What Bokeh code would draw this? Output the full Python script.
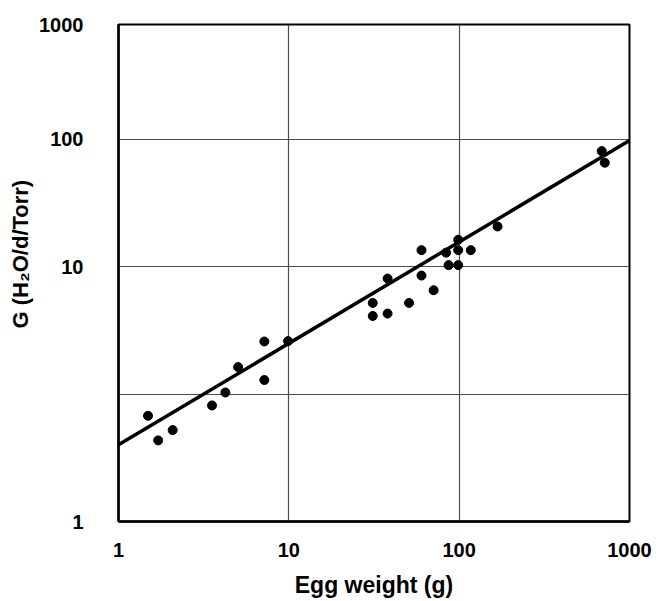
from bokeh.plotting import figure
from bokeh.models import Range1d, FixedTicker, ColumnDataSource, Title
from bokeh.embed import file_html
from bokeh.resources import INLINE

# Egg weight (g) and water-vapour conductance G (mg H2O / day / Torr)
egg_weight = [1.49, 1.71, 2.08, 3.54, 4.24, 5.04, 7.18, 7.18, 9.9,
              31.1, 31.1, 38.0, 38.0, 50.8, 60.1, 60.1, 70.8, 83.8,
              86.7, 98.7, 98.7, 98.7, 117.0, 168.0, 687.0, 716.0]
conductance = [0.676, 0.433, 0.522, 0.815, 1.03, 1.63, 2.59, 1.29, 2.61,
               5.20, 4.11, 8.08, 4.29, 5.20, 13.5, 8.53, 6.54, 12.9,
               10.3, 16.3, 13.5, 10.3, 13.5, 20.7, 80.9, 65.6]

# Allometric regression line end points
fit_weight = [1.0, 1000.0]
fit_conductance = [0.40, 98.0]

x_ticks = [1, 10, 100, 1000]
y_ticks = [0.1, 1, 10, 100, 798]
y_tick_labels = ["1", "", "10", "100", "1000"]

FONT = "Liberation Sans"

p = figure(width=659, height=601,
           x_axis_type="log", y_axis_type="log",
           x_range=Range1d(1, 1000), y_range=Range1d(0.1, 798),
           output_backend="svg", toolbar_location=None,
           min_border_left=118, min_border_right=30,
           min_border_top=24, min_border_bottom=80)

p.background_fill_color = "white"
p.border_fill_color = "white"
p.outline_line_color = "black"
p.outline_line_width = 2

# grid
p.xgrid.ticker = FixedTicker(ticks=x_ticks)
p.ygrid.ticker = FixedTicker(ticks=y_ticks)
for g in (p.xgrid, p.ygrid):
    g.grid_line_color = "#4d4d4d"
    g.grid_line_width = 1.2
    g.minor_grid_line_color = None

# axes
p.xaxis.ticker = FixedTicker(ticks=x_ticks)
p.yaxis.ticker = FixedTicker(ticks=y_ticks)
p.xaxis.major_label_overrides = {t: str(t) for t in x_ticks}
p.yaxis.major_label_overrides = {t: lab for t, lab in zip(y_ticks, y_tick_labels)}

for ax in (p.xaxis, p.yaxis):
    ax.axis_line_color = "black"
    ax.axis_line_width = 2.5
    ax.major_tick_in = 0
    ax.major_tick_out = 0
    ax.minor_tick_in = 0
    ax.minor_tick_out = 0
    ax.major_label_text_font = FONT
    ax.major_label_text_font_style = "bold"
    ax.major_label_text_font_size = "20px"
    ax.major_label_text_color = "black"
    ax.axis_label_text_font = FONT
    ax.axis_label_text_font_style = "bold"
    ax.axis_label_text_font_size = "23px"
    ax.axis_label_text_color = "black"

p.xaxis.axis_label = "Egg weight (g)"
p.xaxis.major_label_standoff = 21
p.yaxis.major_label_standoff = 35
p.xaxis.axis_label_standoff = 12

# vertical title, placed a little above the frame's centre
y_title = Title(text="G (H\u2082O/d/Torr)", align="left", offset=193,
                text_font=FONT, text_font_style="bold",
                text_font_size="22px", text_color="black", standoff=8)
p.add_layout(y_title, "left")

# regression line and data points
p.line(fit_weight, fit_conductance, line_color="black", line_width=3.5)
src = ColumnDataSource(dict(w=egg_weight, g=conductance))
p.scatter("w", "g", source=src, size=9, fill_color="black", line_color="black")

open("out.html", "w").write(file_html(p, INLINE))
